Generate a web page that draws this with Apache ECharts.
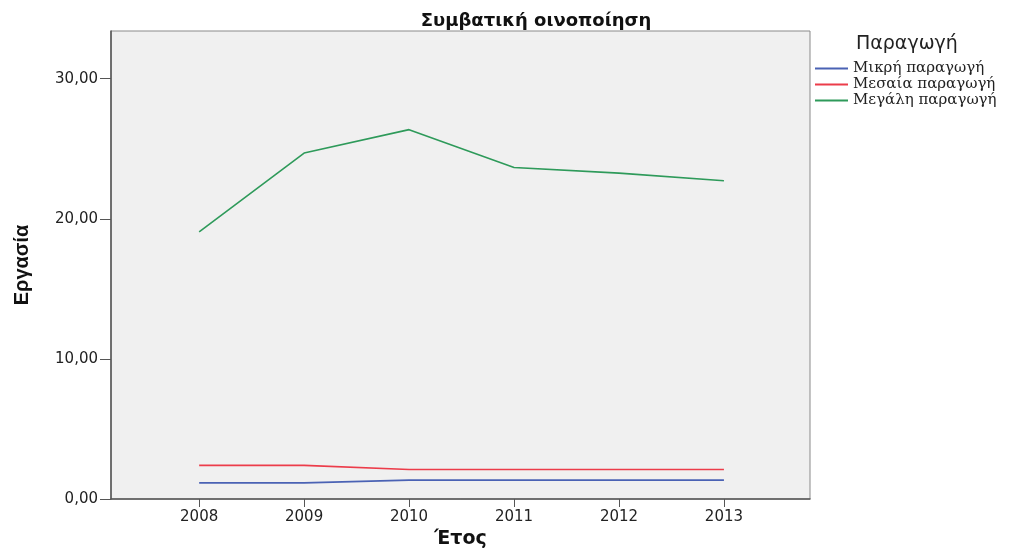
<!DOCTYPE html>
<html>
<head>
<meta charset="utf-8">
<script src="https://cdn.jsdelivr.net/npm/echarts@6/dist/echarts.min.js"></script>
<style>html,body{margin:0;padding:0;background:#fff}#c{width:1010px;height:548px}</style>
</head>
<body>
<div id="c"></div>
<script>
const years = [2008, 2009, 2010, 2011, 2012, 2013];
const small = [1.15, 1.15, 1.35, 1.35, 1.35, 1.35];
const medium = [2.4, 2.4, 2.1, 2.1, 2.1, 2.1];
const large = [19.07, 24.69, 26.36, 23.66, 23.26, 22.71];
const seriesNames = ['Μικρή παραγωγή', 'Μεσαία παραγωγή', 'Μεγάλη παραγωγή'];
const yTicks = [0, 10, 20, 30];

const colors = ['#4a62b4', '#ec3c4a', '#2e9a5a'];
const chart = echarts.init(document.getElementById('c'), null, {renderer: 'canvas'});
const pairs = arr => years.map((y, i) => [y, arr[i]]);
const mk = (name, arr, c) => ({
  name, type: 'line', data: pairs(arr), symbol: 'none',
  lineStyle: {color: c, width: 1.6}, itemStyle: {color: c}
});
chart.setOption({
  animation: false,
  title: {
    text: 'Συμβατική οινοποίηση', left: 531, top: 7, textAlign: 'center',
    textStyle: {fontFamily: 'DejaVu Sans', fontWeight: 'bold', fontSize: 18, color: '#111'}
  },
  graphic: [{
    type: 'text', left: 856, top: 35,
    style: {text: 'Παραγωγή', font: '19px "DejaVu Sans"', fill: '#222'}
  }],
  legend: {
    orient: 'vertical', left: 810, top: 56, itemWidth: 33, itemHeight: 2, itemGap: 1,
    icon: 'rect',
    textStyle: {fontFamily: 'DejaVu Serif', fontSize: 15, color: '#222', padding: [0, 0, 0, 0]},
    data: seriesNames
  },
  grid: {
    left: 111, right: 200, top: 31, bottom: 49, show: true, outerBoundsMode: 'none', containLabel: false,
    backgroundColor: '#f0f0f0', borderColor: '#8a8a8a', borderWidth: 1
  },
  xAxis: {
    type: 'value', min: 2007.16, max: 2013.82,
    name: 'Έτος', nameLocation: 'middle', nameGap: 29,
    nameTextStyle: {fontFamily: 'DejaVu Sans', fontWeight: 'bold', fontSize: 19, color: '#111'},
    axisLine: {show: true, lineStyle: {color: '#555', width: 1.5}},
    axisTick: {show: true, length: 8, customValues: years, lineStyle: {color: '#555'}},
    axisLabel: {customValues: years, formatter: v => String(v), fontFamily: 'DejaVu Sans', fontSize: 15, color: '#222', margin: 11},
    splitLine: {show: false}
  },
  yAxis: {
    type: 'value', min: 0, max: 33.4,
    name: 'Εργασία', nameLocation: 'middle', nameGap: 79, nameRotate: 90,
    nameTextStyle: {fontFamily: 'Liberation Sans', fontWeight: 'bold', fontSize: 20, color: '#111'},
    axisLine: {show: true, lineStyle: {color: '#555', width: 1.5}},
    axisTick: {show: true, length: 11, customValues: yTicks, lineStyle: {color: '#555'}},
    axisLabel: {customValues: yTicks, formatter: v => v.toFixed(2).replace('.', ','), fontFamily: 'DejaVu Sans', fontSize: 15, color: '#222', margin: 13},
    splitLine: {show: false}
  },
  series: [mk(seriesNames[0], small, colors[0]), mk(seriesNames[1], medium, colors[1]), mk(seriesNames[2], large, colors[2])]
});
</script>
</body>
</html>
